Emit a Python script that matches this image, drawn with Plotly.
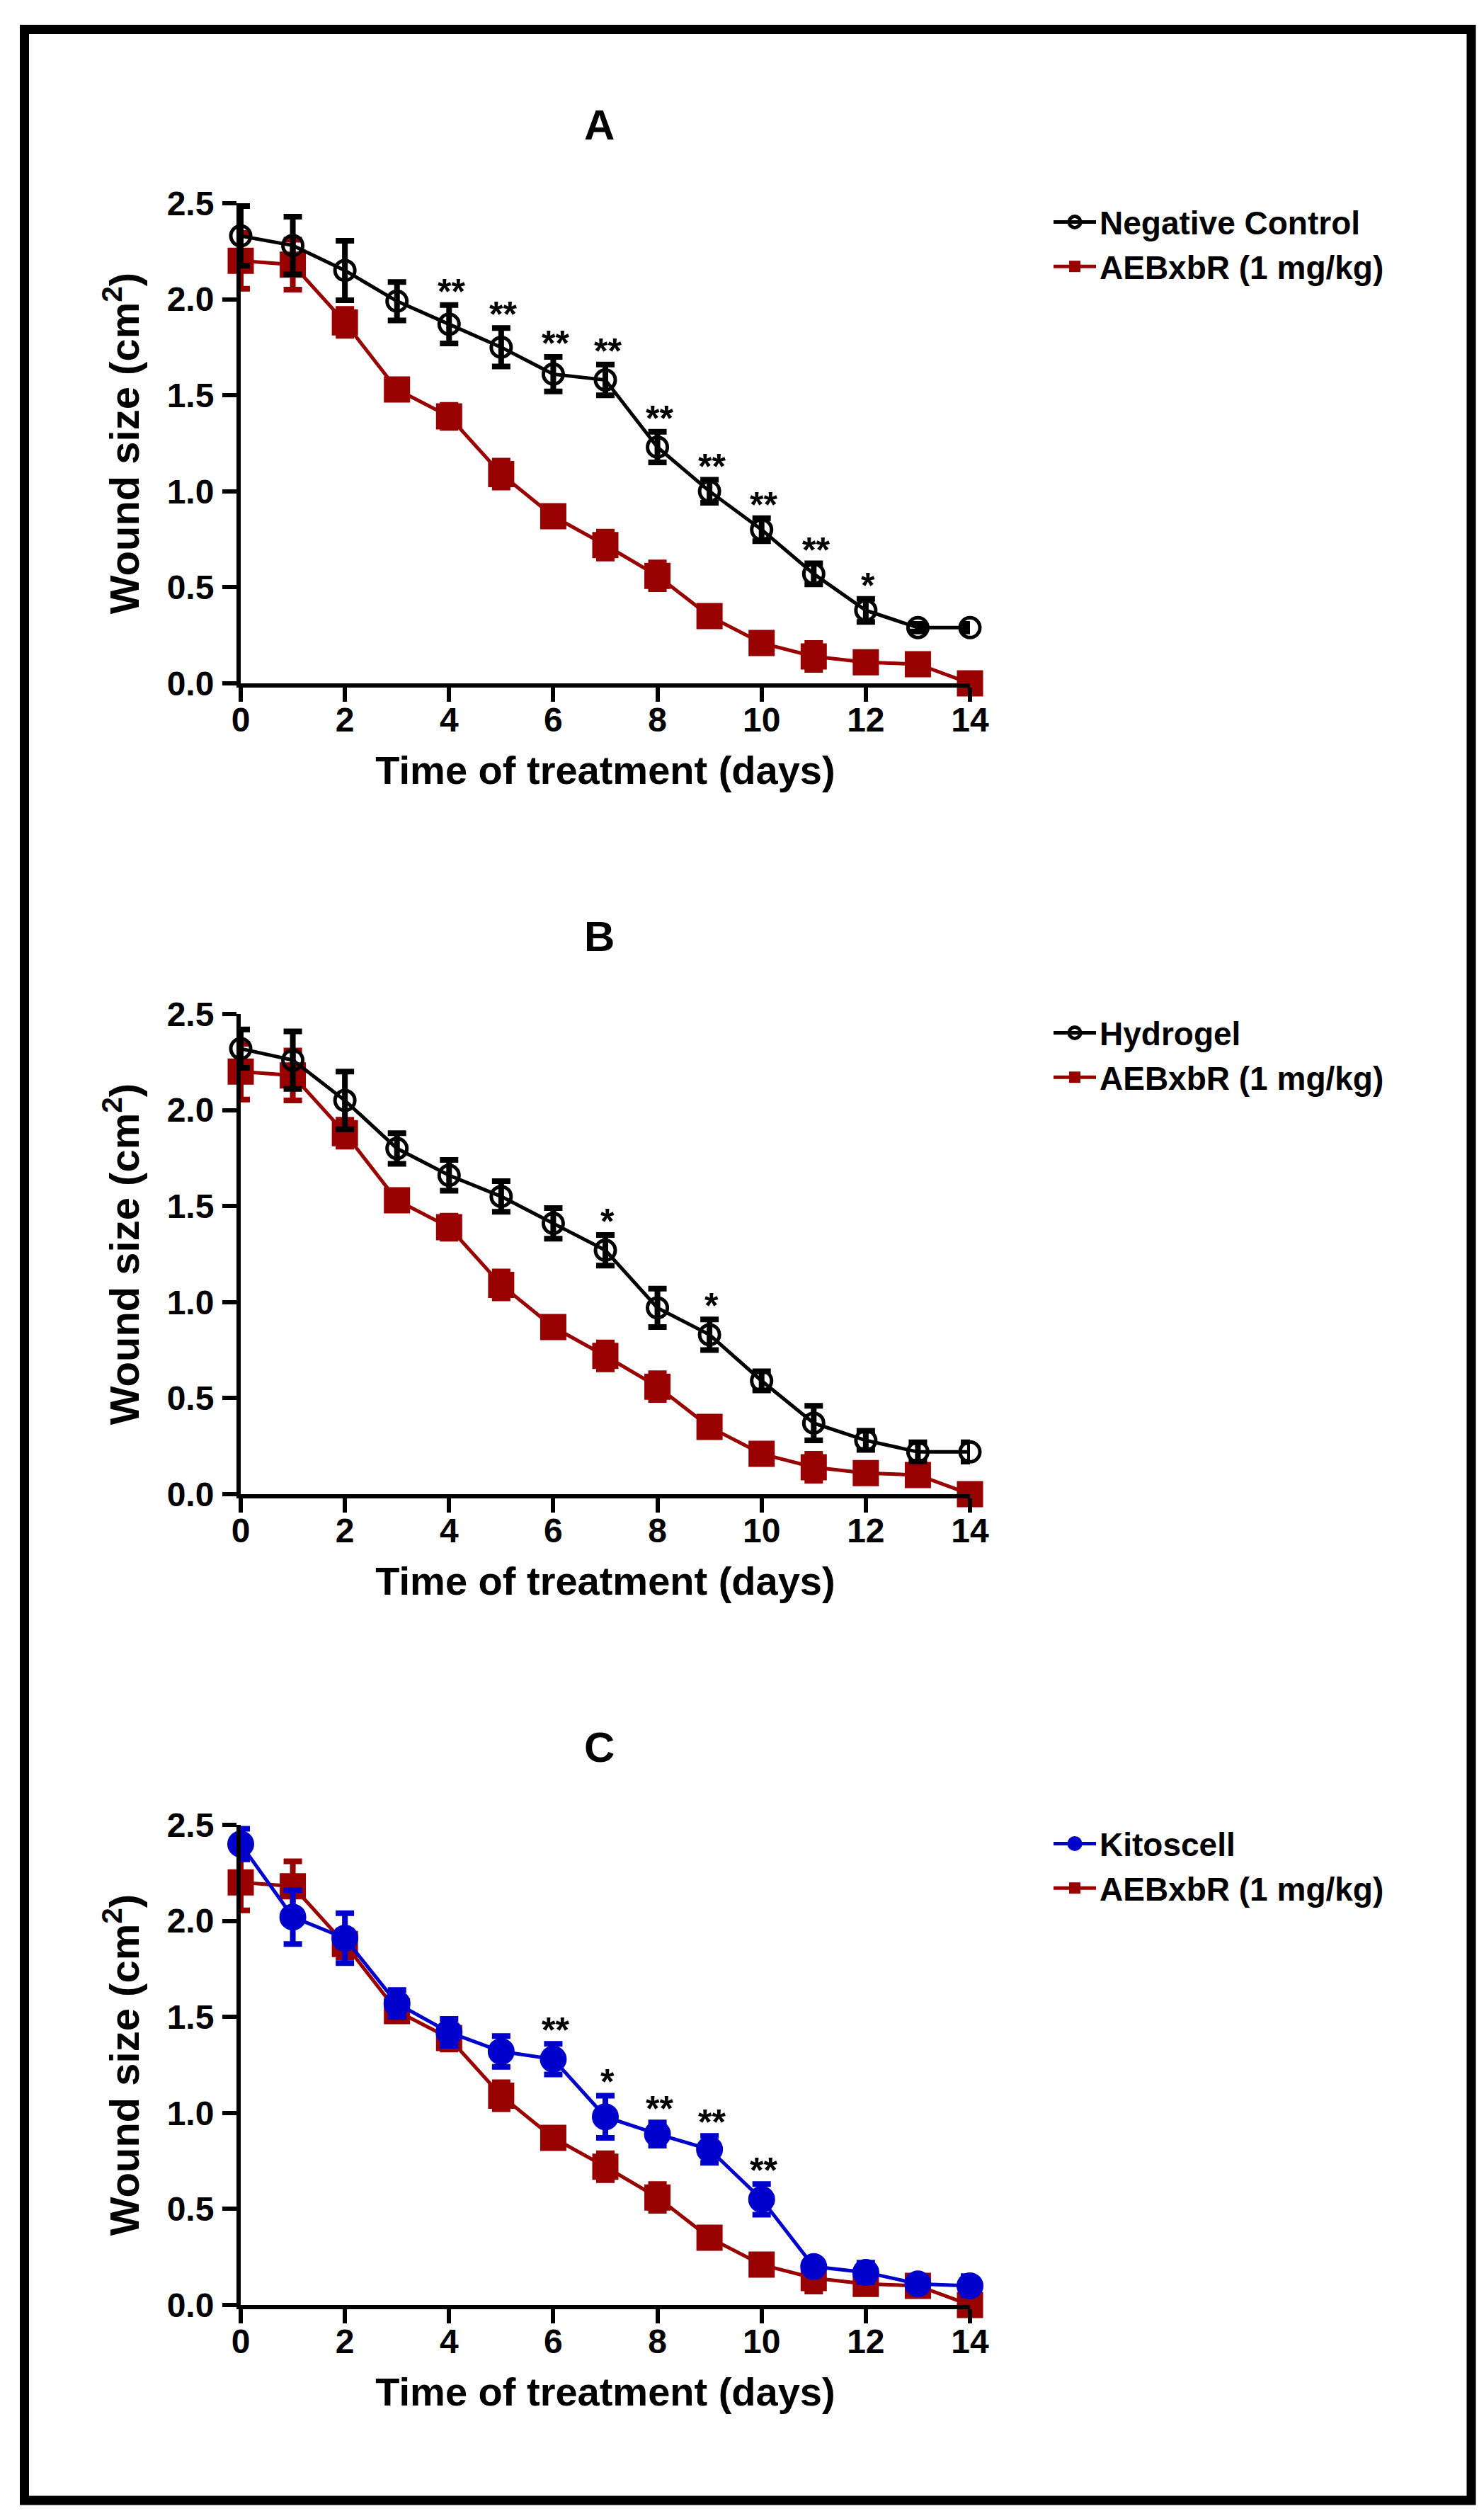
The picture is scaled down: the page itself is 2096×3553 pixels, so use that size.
import plotly.graph_objects as go

W, H = 2096, 3553
FONT = "Liberation Sans"
RED = "#990000"
BLUE = "#0000CC"

days = list(range(15))

# AEBxbR (1 mg/kg) - same group shown in all three panels
aeb_mean = [2.20, 2.18, 1.88, 1.53, 1.39, 1.09, 0.87, 0.72, 0.56, 0.35, 0.21, 0.14, 0.11, 0.10, 0.00]
aeb_sem = [0.145, 0.13, 0.07, 0.05, 0.06, 0.07, 0.05, 0.07, 0.07, 0.05, 0.03, 0.07, 0.03, 0.03, 0.02]

# panel A
nc_mean = [2.33, 2.28, 2.15, 1.99, 1.87, 1.75, 1.61, 1.58, 1.23, 1.00, 0.80, 0.57, 0.38, 0.29, 0.29]
nc_sem = [0.155, 0.15, 0.155, 0.10, 0.10, 0.10, 0.09, 0.08, 0.08, 0.06, 0.06, 0.055, 0.06, 0.02, 0.02]
nc_sig = ["", "", "", "", "**", "**", "**", "**", "**", "**", "**", "**", "*", "", ""]

# panel B
hg_mean = [2.32, 2.26, 2.05, 1.80, 1.66, 1.55, 1.41, 1.27, 0.97, 0.83, 0.59, 0.37, 0.28, 0.22, 0.22]
hg_sem = [0.10, 0.15, 0.15, 0.08, 0.08, 0.08, 0.08, 0.08, 0.10, 0.08, 0.05, 0.09, 0.05, 0.05, 0.05]
hg_sig = ["", "", "", "", "", "", "", "*", "", "*", "", "", "", "", ""]

# panel C
kt_mean = [2.40, 2.02, 1.91, 1.57, 1.42, 1.32, 1.28, 0.98, 0.89, 0.81, 0.55, 0.20, 0.17, 0.11, 0.10]
kt_sem = [0.08, 0.14, 0.13, 0.07, 0.07, 0.08, 0.08, 0.11, 0.06, 0.07, 0.08, 0.03, 0.05, 0.04, 0.05]
kt_sig = ["", "", "", "", "", "", "**", "*", "**", "**", "**", "", "", "", ""]

x_ticks = [0, 2, 4, 6, 8, 10, 12, 14]
y_ticks = [0.0, 0.5, 1.0, 1.5, 2.0, 2.5]

# pixel geometry of each panel (left, right, top, bottom of the axes box)
X_LEFT, X_RIGHT = 332, 1362
Y_TOP = [279, 1424, 2569]
Y_BOT = [957, 2102, 3247]


def fx(p):
    return p / W


def fy(p):
    return 1 - p / H


def bold(size):
    return dict(size=size, family=FONT, weight="bold", color="black")


panels = [
    dict(letter="A", name="Negative Control", mean=nc_mean, sem=nc_sem, sig=nc_sig,
         color="black", symbol="circle-open", size=28),
    dict(letter="B", name="Hydrogel", mean=hg_mean, sem=hg_sem, sig=hg_sig,
         color="black", symbol="circle-open", size=28),
    dict(letter="C", name="Kitoscell", mean=kt_mean, sem=kt_sem, sig=kt_sig,
         color=BLUE, symbol="circle", size=33),
]

fig = go.Figure()
annotations = []
layout_axes = {}

for i, p in enumerate(panels):
    n = "" if i == 0 else str(i + 1)
    leg = "legend" + n

    # AEBxbR first so the comparison group is drawn on top
    fig.add_trace(go.Scatter(
        x=days, y=aeb_mean, name="AEBxbR (1 mg/kg)",
        mode="lines+markers",
        line=dict(color=RED, width=5),
        marker=dict(symbol="square", size=37, color=RED),
        error_y=dict(type="data", array=aeb_sem, color=RED, thickness=8, width=13),
        xaxis="x" + n, yaxis="y" + n, legend=leg, legendrank=2, cliponaxis=False,
    ))
    fig.add_trace(go.Scatter(
        x=days, y=p["mean"], name=p["name"],
        mode="lines+markers",
        line=dict(color=p["color"], width=5),
        marker=dict(symbol=p["symbol"], size=p["size"], color=p["color"],
                    line=dict(width=5, color=p["color"])),
        error_y=dict(type="data", array=p["sem"], color=p["color"], thickness=8, width=13),
        xaxis="x" + n, yaxis="y" + n, legend=leg, legendrank=1, cliponaxis=False,
    ))

    # significance stars above the error bars
    for d, m, s, txt in zip(days, p["mean"], p["sem"], p["sig"]):
        if txt:
            annotations.append(dict(
                x=d, y=m + s + 0.07, xref="x" + n, yref="y" + n, text=txt,
                showarrow=False, xanchor="center", yanchor="middle", xshift=3,
                font=bold(50),
            ))

    # panel letter
    annotations.append(dict(
        x=fx(838), y=fy(Y_TOP[i] - 110), xref="paper", yref="paper", text=p["letter"],
        showarrow=False, xanchor="center", yanchor="middle", font=bold(60),
    ))

    common = dict(showline=True, linecolor="black", linewidth=6, ticks="outside",
                  ticklen=20, tickwidth=6, tickcolor="black", showgrid=False,
                  zeroline=False, tickfont=bold(48), automargin=False, fixedrange=True)
    layout_axes["xaxis" + n] = dict(
        common, domain=[fx(X_LEFT), fx(X_RIGHT)], anchor="y" + n, range=[0, 14],
        tickvals=x_ticks, ticklabelstandoff=-16,
        title=dict(text="Time of treatment (days)", standoff=28, font=bold(56)),
    )
    layout_axes["yaxis" + n] = dict(
        common, domain=[fy(Y_BOT[i]), fy(Y_TOP[i])], anchor="x" + n, range=[0, 2.5],
        tickvals=y_ticks, tickformat=".1f", ticklabelstandoff=2,
        title=dict(text="Wound size (cm<sup>2</sup>)", standoff=22, font=bold(58)),
    )
    layout_axes[leg] = dict(
        x=fx(1475), y=fy(Y_TOP[i] - 10), xanchor="left", yanchor="top",
        font=bold(46), bgcolor="rgba(0,0,0,0)", itemwidth=60, tracegroupgap=0,
    )

fig.update_layout(
    width=W, height=H,
    margin=dict(l=0, r=0, t=0, b=0),
    paper_bgcolor="white", plot_bgcolor="white",
    font=dict(family=FONT, weight="bold", color="black"),
    showlegend=True,
    annotations=annotations,
    **layout_axes,
)

# outer frame around the whole figure
fig.add_shape(type="rect", xref="paper", yref="paper",
              x0=fx(26.5), x1=fx(2070), y0=fy(3523), y1=fy(33.5),
              line=dict(color="black", width=13))

fig.write_html("out.html")
